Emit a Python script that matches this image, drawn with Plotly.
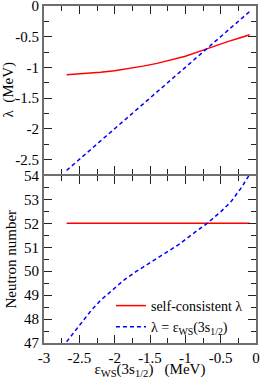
import plotly.graph_objects as go
from plotly.subplots import make_subplots

# --- data ---
eps_sc = [-2.68, -2.4, -2.2, -2.0, -1.8, -1.6, -1.4, -1.2, -1.0, -0.8, -0.6, -0.4, -0.2, -0.09]
lam_sc = [-1.12, -1.10, -1.08, -1.055, -1.02, -0.98, -0.935, -0.88, -0.82, -0.74, -0.655, -0.58, -0.51, -0.47]

eps_ws = [-2.68, -0.09]
lam_ws = [-2.68, -0.09]

n_sc_x = [-2.68, -0.09]
n_sc = [52.0, 52.0]

eps_n = [-2.68, -2.5, -2.33, -2.2, -2.0, -1.86, -1.7, -1.5, -1.3, -1.1, -0.9, -0.7, -0.5, -0.35, -0.2, -0.09]
n_ws = [47.05, 47.75, 48.37, 48.78, 49.3, 49.65, 49.98, 50.36, 50.72, 51.1, 51.55, 51.98, 52.48, 52.92, 53.52, 54.05]

x_ticks = [-3, -2.5, -2, -1.5, -1, -0.5, 0]
x_labels = ["-3", "-2.5", "-2", "-1.5", "-1", "-0.5", "0"]
y1_ticks = [-2.5, -2, -1.5, -1, -0.5, 0]
y1_labels = ["-2.5", "-2", "-1.5", "-1", "-0.5", "0"]
y2_ticks = [47, 48, 49, 50, 51, 52, 53, 54]
y2_labels = [str(v) for v in y2_ticks]

RED = "#ff0000"
BLUE = "#0000ff"
FONT = "'Liberation Serif', 'Times New Roman', 'DejaVu Serif', serif"

fig = make_subplots(rows=2, cols=1, shared_xaxes=True, vertical_spacing=0)

fig.add_trace(go.Scatter(x=eps_sc, y=lam_sc, mode="lines", line=dict(color=RED, width=1.5),
                         showlegend=False), row=1, col=1)
fig.add_trace(go.Scatter(x=eps_ws, y=lam_ws, mode="lines", line=dict(color=BLUE, width=1.5, dash="4px,3px"),
                         showlegend=False), row=1, col=1)
fig.add_trace(go.Scatter(x=n_sc_x, y=n_sc, mode="lines", line=dict(color=RED, width=1.5),
                         name="self-consistent λ"), row=2, col=1)
fig.add_trace(go.Scatter(x=eps_n, y=n_ws, mode="lines", line=dict(color=BLUE, width=1.5, dash="4px,3px"),
                         name="λ = ε<sub>WS</sub>(3s<sub>1/2</sub>)"), row=2, col=1)

common = dict(showline=True, linecolor="#6e6e6e", linewidth=2, mirror="allticks",
              ticks="inside", ticklen=8, tickwidth=1, tickcolor="#222",
              showgrid=False, zeroline=False, automargin=False, ticklabeloverflow="allow",
              tickfont=dict(family=FONT, size=15, color="black"))

fig.update_xaxes(range=[-3, 0], tickmode="array", tickvals=x_ticks, ticktext=x_labels,
                 minor=dict(ticks="inside", ticklen=5, tickmode="linear", tick0=0, dtick=0.25,
                            tickcolor="#222", showgrid=False),
                 **common)
fig.update_xaxes(showticklabels=False, row=1, col=1)
fig.update_xaxes(title=dict(text="ε<sub>WS</sub>(3s<sub>1/2</sub>)   (MeV)",
                            font=dict(family=FONT, size=15, color="black"), standoff=2),
                 row=2, col=1)

gap = 1.0 / 337
fig.update_yaxes(range=[-2.73, 0], tickmode="array", tickvals=y1_ticks, ticktext=y1_labels,
                 domain=[0.5 + gap, 1.0],
                 minor=dict(ticks="inside", ticklen=5, tickmode="linear", tick0=0, dtick=0.25,
                            tickcolor="#222", showgrid=False),
                 title=dict(text="λ  (MeV)", font=dict(family=FONT, size=15, color="black"), standoff=4),
                 row=1, col=1, **common)
fig.update_yaxes(range=[47, 54], tickmode="array", tickvals=y2_ticks, ticktext=y2_labels,
                 domain=[0.0, 0.5 - gap],
                 minor=dict(ticks="inside", ticklen=5, tickmode="linear", tick0=0, dtick=0.5,
                            tickcolor="#222", showgrid=False),
                 title=dict(text="Neutron number", font=dict(family=FONT, size=15, color="black"), standoff=4),
                 row=2, col=1, **common)

fig.update_layout(
    width=261, height=379,
    margin=dict(l=44, r=5, t=6, b=36, autoexpand=False),
    paper_bgcolor="white", plot_bgcolor="white",
    font=dict(family=FONT, size=15, color="black"),
    legend=dict(x=0.962, y=0.0, xanchor="right", yanchor="bottom", bgcolor="rgba(0,0,0,0)",
                font=dict(family=FONT, size=14, color="black"),
                tracegroupgap=0, itemwidth=30),
)

fig.write_html("out.html", config={"displayModeBar": False},
               post_script="document.body.style.margin='0';")
